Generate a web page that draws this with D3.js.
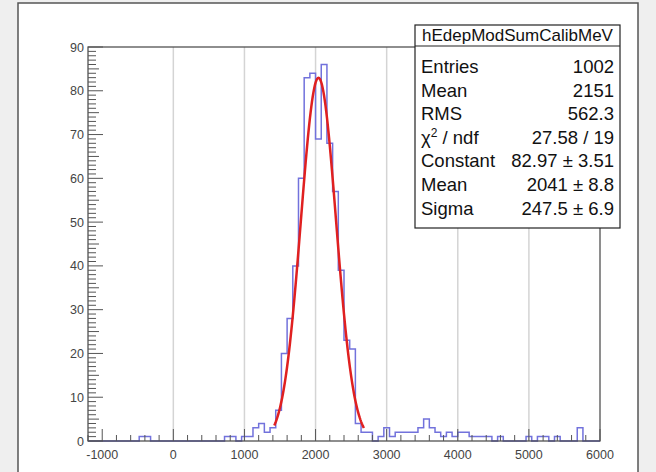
<!DOCTYPE html>
<html>
<head>
<meta charset="utf-8">
<script src="https://cdn.jsdelivr.net/npm/d3@7"></script>
<style>
  body { margin: 0; background: #efefef; }
  svg { display: block; font-family: "Liberation Sans", Arial, sans-serif; }
</style>
</head>
<body>
<div id="chart"></div>
<script>
// canvas
const w = 656;
const h = 472;

// histogram: 90 bins from -1200 to 6000
const binLow = -1200;
const binWidth = 80;
const counts = [
  0, 0, 0, 0, 0, 0, 0, 0, 0, 1,
  1, 0, 0, 0, 0, 0, 0, 0, 0, 0,
  0, 0, 0, 0, 1, 1, 0, 1, 1, 3,
  4, 2, 3, 7, 20, 28, 40, 60, 83, 84,
  69, 86, 68, 57, 39, 23, 21, 4, 2, 2,
  0, 1, 3, 1, 2, 2, 2, 2, 3, 5,
  3, 2, 1, 2, 1, 2, 2, 1, 1, 1,
  1, 0, 1, 0, 0, 0, 0, 1, 0, 1,
  1, 0, 1, 0, 0, 0, 3, 0, 0, 0
];

// gaussian fit
const fitConst = 82.97;
const fitMean = 2041;
const fitSigma = 247.5;
const fitRange = [1420, 2680];

// axes
const xTicks = [-1000, 0, 1000, 2000, 3000, 4000, 5000, 6000];
const yTicks = [0, 10, 20, 30, 40, 50, 60, 70, 80, 90];

// stats box rows
const statsTitle = 'hEdepModSumCalibMeV';
const statLabels = ['Entries', 'Mean', 'RMS', 'chi2', 'Constant', 'Mean', 'Sigma'];
const statValues = ['1002', '2151', '562.3', '27.58 / 19', '82.97 \u00b1 3.51', '2041 \u00b1 8.8', '247.5 \u00b1 6.9'];

const x = d3.scaleLinear().domain([-1200, 6000]).range([88, 600]);
const y = d3.scaleLinear().domain([0, 90]).range([441, 47]);

const svg = d3.select('#chart')
  .append('svg')
  .attr('width', w)
  .attr('height', h);

// canvas pad
svg.append('rect')
  .attr('x', 18).attr('y', 3)
  .attr('width', 620).attr('height', 480)
  .attr('fill', '#fff')
  .attr('stroke', '#555')
  .attr('stroke-width', 1.5);

// grid lines
svg.selectAll('line.grid')
  .data(xTicks.filter(d => d >= 0 && d < 6000))
  .enter()
  .append('line')
  .attr('class', 'grid')
  .attr('x1', d => x(d)).attr('x2', d => x(d))
  .attr('y1', y(0)).attr('y2', y(90))
  .attr('stroke', '#d4d4d4')
  .attr('stroke-width', 1.5);

// histogram outline
const pts = [[x(binLow), y(0)]];
counts.forEach((c, i) => {
  pts.push([x(binLow + i * binWidth), y(c)]);
  pts.push([x(binLow + (i + 1) * binWidth), y(c)]);
});
pts.push([x(binLow + counts.length * binWidth), y(0)]);

svg.append('path')
  .attr('d', d3.line()(pts))
  .attr('fill', 'none')
  .attr('stroke', '#7272dc')
  .attr('stroke-width', 1.5);

// fit curve
const gaus = v => fitConst * Math.exp(-0.5 * Math.pow((v - fitMean) / fitSigma, 2));
const fitPts = d3.range(fitRange[0], fitRange[1] + 1, 10).map(v => [x(v), y(gaus(v))]);
svg.append('path')
  .attr('d', d3.line()(fitPts))
  .attr('fill', 'none')
  .attr('stroke', '#e02020')
  .attr('stroke-width', 2.5);

// frame
svg.append('rect')
  .attr('x', x(-1200)).attr('y', y(90))
  .attr('width', x(6000) - x(-1200)).attr('height', y(0) - y(90))
  .attr('fill', 'none')
  .attr('stroke', '#444')
  .attr('stroke-width', 1.2);

// y axis ticks (inside the frame)
const yMinor = d3.range(0, 91, 1);
svg.selectAll('line.ytick')
  .data(yMinor)
  .enter()
  .append('line')
  .attr('class', 'ytick')
  .attr('x1', x(-1200))
  .attr('x2', d => x(-1200) + (d % 10 === 0 ? 15 : (d % 5 === 0 ? 11 : 8)))
  .attr('y1', d => y(d)).attr('y2', d => y(d))
  .attr('stroke', '#555')
  .attr('stroke-width', 1);

svg.selectAll('text.ylab')
  .data(yTicks)
  .enter()
  .append('text')
  .attr('class', 'ylab')
  .attr('x', 84)
  .attr('y', d => y(d) + 4.5)
  .attr('text-anchor', 'end')
  .attr('font-size', 12.5)
  .attr('fill', '#444')
  .text(d => d);

// x axis ticks
const xMinor = d3.range(-1200, 6001, 200);
svg.selectAll('line.xtick')
  .data(xMinor)
  .enter()
  .append('line')
  .attr('class', 'xtick')
  .attr('x1', d => x(d)).attr('x2', d => x(d))
  .attr('y1', y(0))
  .attr('y2', d => y(0) - (d % 1000 === 0 ? 12 : 6))
  .attr('stroke', '#555')
  .attr('stroke-width', 1);

svg.selectAll('text.xlab')
  .data(xTicks)
  .enter()
  .append('text')
  .attr('class', 'xlab')
  .attr('x', d => x(d))
  .attr('y', 459)
  .attr('text-anchor', 'middle')
  .attr('font-size', 12.5)
  .attr('fill', '#444')
  .text(d => d);

// stats box
const bx = 415, by = 25, bw = 205, bh = 203;
svg.append('rect')
  .attr('x', bx).attr('y', by)
  .attr('width', bw).attr('height', bh)
  .attr('fill', '#fff')
  .attr('stroke', '#222')
  .attr('stroke-width', 1.2);
svg.append('line')
  .attr('x1', bx).attr('x2', bx + bw)
  .attr('y1', by + 21).attr('y2', by + 21)
  .attr('stroke', '#222')
  .attr('stroke-width', 1.2);
svg.append('text')
  .attr('x', bx + bw / 2).attr('y', by + 16)
  .attr('text-anchor', 'middle')
  .attr('font-size', 17)
  .attr('fill', '#111')
  .text(statsTitle);

const rows = svg.selectAll('g.row')
  .data(statLabels)
  .enter()
  .append('g')
  .attr('class', 'row')
  .attr('transform', (d, i) => `translate(0,${by + 48 + i * 23.6})`);

rows.append('text')
  .attr('x', bx + 6)
  .attr('font-size', 18.5)
  .attr('fill', '#111')
  .each(function(d) {
    const t = d3.select(this);
    if (d === 'chi2') {
      t.append('tspan').text('\u03c7');
      t.append('tspan').attr('font-size', 12).attr('dy', -7).text('2');
      t.append('tspan').attr('dy', 7).text(' / ndf');
    } else {
      t.text(d);
    }
  });

rows.append('text')
  .attr('x', bx + bw - 6)
  .attr('text-anchor', 'end')
  .attr('font-size', 18.5)
  .attr('fill', '#111')
  .text((d, i) => statValues[i]);
</script>
</body>
</html>
